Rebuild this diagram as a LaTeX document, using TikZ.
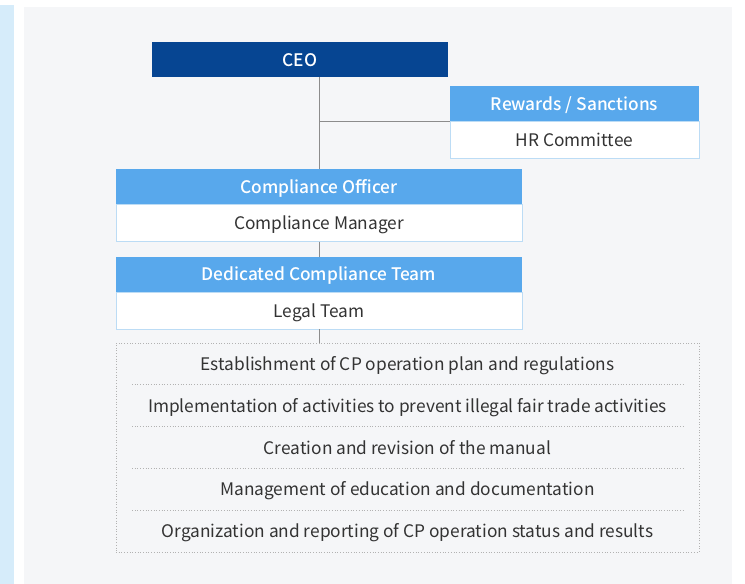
\documentclass[tikz,border=0pt]{standalone}
\usepackage{fontspec}
\setmainfont{Noto Sans CJK KR}
\newfontfamily\medfont{Noto Sans CJK KR Medium}
\usetikzlibrary{positioning}

\definecolor{ceoblue}{HTML}{064592}
\definecolor{headblue}{HTML}{58A8EC}
\definecolor{subline}{HTML}{BCDCF5}
\definecolor{stripblue}{HTML}{D6ECFA}
\definecolor{panelgray}{HTML}{F5F6F8}
\definecolor{textgray}{HTML}{333333}
\definecolor{linegray}{HTML}{8C8C8C}

\tikzset{
  every node/.style={text height=14pt, text depth=1pt},
  headbox/.style={fill=headblue, text=white, font=\medfont\fontsize{17.3}{20}\selectfont, minimum height=35pt, inner sep=0pt},
  subbox/.style={fill=white, draw=subline, text=textgray, minimum height=37pt, inner sep=0pt},
  link/.style={draw=linegray, line width=0.8pt},
  rowtext/.style={text=textgray, inner sep=0pt},
  sepline/.style={draw=gray!60, dotted, line width=0.7pt}
}

\begin{document}
\begin{tikzpicture}[x=1pt, y=-1pt, font=\fontsize{17.3}{20}\selectfont]
    % background
    \useasboundingbox (0,0) rectangle (745,584);
    \fill[stripblue] (0,5) rectangle (14,584);
    \fill[panelgray] (24,7) rectangle (732,584);

    % top level
    \node[headbox, fill=ceoblue, minimum width=296pt] (ceo) at (300,59.5) {CEO};

    % rewards / sanctions
    \node[headbox, minimum width=249pt] (rwhead) at (574.5,103.5) {Rewards / Sanctions};
    \node[subbox, minimum width=249pt, below=0pt of rwhead] (rwsub) {HR Committee};

    % compliance officer
    \node[headbox, minimum width=406pt] (cohead) at (319,186.5) {Compliance Officer};
    \node[subbox, minimum width=406pt, below=0pt of cohead] (cosub) {Compliance Manager};

    % dedicated team
    \node[headbox, minimum width=406pt, below=15pt of cosub] (dchead) {Dedicated Compliance Team};
    \node[subbox, minimum width=406pt, below=0pt of dchead] (dcsub) {Legal Team};

    % duties
    \node[draw=gray!60, dotted, line width=0.7pt, minimum width=583pt, minimum height=209pt, inner sep=0pt] (tasks) at (407.5,447.5) {};
    \foreach \i/\txt in {1/Establishment of CP operation plan and regulations,
                         2/Implementation of activities to prevent illegal fair trade activities,
                         3/Creation and revision of the manual,
                         4/Management of education and documentation,
                         5/Organization and reporting of CP operation status and results} {
        \node[rowtext] (t\i) at (407.5,{343+41.8*(\i-0.5)}) {\txt};
    }
    \foreach \i in {1,...,4} {
        \draw[sepline] (132,{343+41.8*\i}) -- (684,{343+41.8*\i});
    }

    % connectors
    \draw[link] (ceo.south -| cohead.north) -- (cohead.north);
    \draw[link] (cohead.north |- rwhead.south west) -- (rwhead.south west);
    \draw[link] (cosub.south) -- (dchead.north);
    \draw[link] (dcsub.south) -- (dcsub.south |- tasks.north);
\end{tikzpicture}
\end{document}
